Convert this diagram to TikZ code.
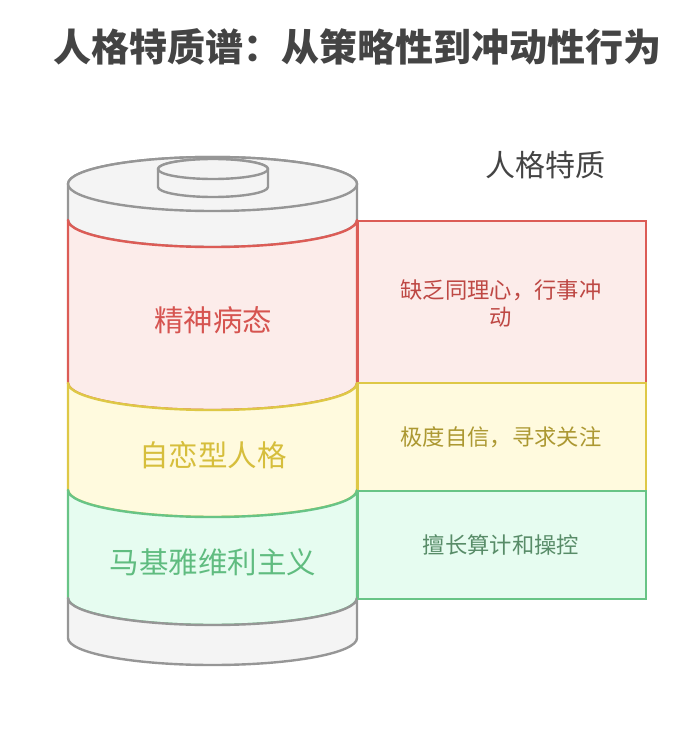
\documentclass[tikz,border=0pt]{standalone}
\usepackage{fontspec}
\newfontfamily\cjk{Noto Sans CJK SC}
\definecolor{grayline}{RGB}{150,150,150}
\definecolor{grayfill}{RGB}{244,244,244}
\definecolor{redline}{RGB}{220,92,86}
\definecolor{redfill}{RGB}{252,236,234}
\definecolor{redtext}{RGB}{214,84,80}
\definecolor{redtext2}{RGB}{190,72,68}
\definecolor{yelline}{RGB}{222,200,70}
\definecolor{yelfill}{RGB}{255,250,222}
\definecolor{yeltext}{RGB}{214,190,60}
\definecolor{yeltext2}{RGB}{172,152,50}
\definecolor{grnline}{RGB}{104,196,134}
\definecolor{grnfill}{RGB}{230,252,240}
\definecolor{grntext}{RGB}{96,188,128}
\definecolor{grntext2}{RGB}{88,140,104}
\definecolor{titletext}{RGB}{68,68,68}
\tikzset{
  seg/.style={line width=2.4pt, line join=round},
  box/.style={draw, line width=2.4pt, minimum width=288pt, anchor=north west, inner sep=0pt},
  boxtext/.style={font=\cjk\fontsize{22.3}{27}\selectfont, align=center},
  label/.style={font=\cjk\fontsize{29.5}{34}\selectfont}
}
\begin{document}
\begin{tikzpicture}[x=1pt,y=1pt]
\useasboundingbox (0,0) rectangle (696,-730);
% title
\node[font=\cjk\bfseries\fontsize{38}{42}\selectfont, text=titletext] (title) at (357.5,-47) {人格特质谱：从策略性到冲动性行为};
\node[font=\cjk\fontsize{30}{34}\selectfont, text=titletext] (head) at (545.5,-165) {人格特质};
% cylinder (drawn top-down so each layer's top arc is on top)
\def\L{68}\def\R{357}\def\rx{144.5}\def\ry{27}
\filldraw[seg, draw=grayline, fill=grayfill] (\L,-184) -- (\L,-220) arc[start angle=180,end angle=360,x radius=\rx,y radius=\ry] -- (\R,-184) arc[start angle=0,end angle=180,x radius=\rx,y radius=\ry] -- cycle;
\filldraw[seg, draw=grayline, fill=grayfill] (212.5,-184) ellipse[x radius=\rx,y radius=\ry];
\filldraw[seg, draw=grayline, fill=grayfill] (158,-169) -- (158,-187) arc[start angle=180,end angle=360,x radius=55,y radius=10] -- (268,-169) arc[start angle=0,end angle=180,x radius=55,y radius=10] -- cycle;
\filldraw[seg, draw=grayline, fill=grayfill] (213,-169) ellipse[x radius=55,y radius=10];
\filldraw[seg, draw=redline, fill=redfill] (\L,-220) -- (\L,-383) arc[start angle=180,end angle=360,x radius=\rx,y radius=\ry] -- (\R,-220) arc[start angle=360,end angle=180,x radius=\rx,y radius=\ry] -- cycle;
\filldraw[seg, draw=yelline, fill=yelfill] (\L,-383) -- (\L,-490) arc[start angle=180,end angle=360,x radius=\rx,y radius=\ry] -- (\R,-383) arc[start angle=360,end angle=180,x radius=\rx,y radius=\ry] -- cycle;
\filldraw[seg, draw=grnline, fill=grnfill] (\L,-490) -- (\L,-598) arc[start angle=180,end angle=360,x radius=\rx,y radius=\ry] -- (\R,-490) arc[start angle=360,end angle=180,x radius=\rx,y radius=\ry] -- cycle;
\filldraw[seg, draw=grayline, fill=grayfill] (\L,-598) -- (\L,-638) arc[start angle=180,end angle=360,x radius=\rx,y radius=\ry] -- (\R,-598) arc[start angle=360,end angle=180,x radius=\rx,y radius=\ry] -- cycle;
% layer labels
\node[label, text=redtext] (l1) at (213,-320) {精神病态};
\node[label, text=yeltext] (l2) at (213,-455) {自恋型人格};
\node[label, text=grntext] (l3) at (213,-562) {马基雅维利主义};
% right boxes
\node[box, draw=redline, fill=redfill, minimum height=162pt] (b1) at (357,-220) {};
\node[box, draw=yelline, fill=yelfill, minimum height=108pt] (b2) at (357,-382) {};
\node[box, draw=grnline, fill=grnfill, minimum height=108pt] (b3) at (357,-490) {};
\node[boxtext, text=redtext2] (t1) at (501,-303) {缺乏同理心，行事冲\\动};
\node[boxtext, text=yeltext2] (t2) at (501,-437) {极度自信，寻求关注};
\node[boxtext, text=grntext2] (t3) at (501,-545) {擅长算计和操控};
\end{tikzpicture}
\end{document}
